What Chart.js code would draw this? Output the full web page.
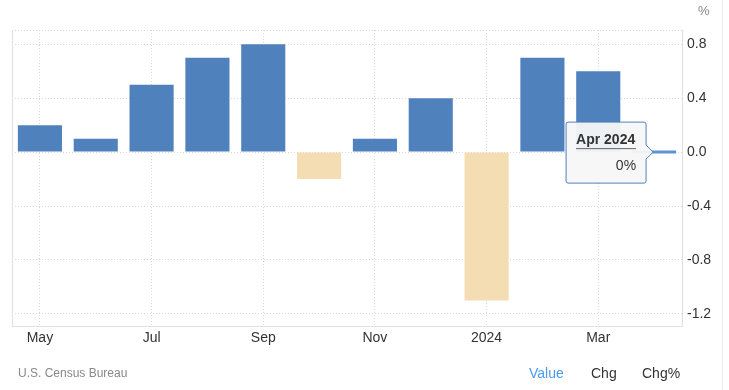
<!DOCTYPE html>
<html>
<head>
<meta charset="utf-8">
<script src="https://cdn.jsdelivr.net/npm/chart.js@4.4.1/dist/chart.umd.min.js"></script>
<style>
    html, body { margin: 0; padding: 0; background: #fff; }
    #wrap { position: relative; width: 729px; height: 390px; font-family: "Liberation Sans", Arial, sans-serif; }
    #edge { position: absolute; left: 722px; top: 0; width: 1px; height: 390px; background: #ececec; }
    .txt { position: absolute; white-space: nowrap; }
</style>
</head>
<body>
<div id="wrap">
    <canvas id="chart" width="729" height="390"></canvas>
    <div id="edge"></div>
    <div class="txt" style="left:698px; top:3px; font-size:13px; color:#888;">%</div>
    <div class="txt" style="left:18px; top:366px; font-size:12px; color:#888;">U.S. Census Bureau</div>
    <div class="txt" style="left:529px; top:365px; font-size:14px; color:#4a9af0;">Value</div>
    <div class="txt" style="left:591px; top:365px; font-size:14px; color:#333;">Chg</div>
    <div class="txt" style="left:642px; top:365px; font-size:14px; color:#333;">Chg%</div>
</div>
<script>
    // 데이터
    const months = ['May', 'Jun', 'Jul', 'Aug', 'Sep', 'Oct', 'Nov', 'Dec', 'Jan', 'Feb', 'Mar', 'Apr'];
    const monthLabels = ['May', '', 'Jul', '', 'Sep', '', 'Nov', '', '2024', '', 'Mar', ''];
    const changes = [0.2, 0.1, 0.5, 0.7, 0.8, -0.2, 0.1, 0.4, -1.1, 0.7, 0.6, 0];
    const yTicks = [-1.2, -0.8, -0.4, 0, 0.4, 0.8];

    // 색상
    const upColor = '#4f81bd';
    const downColor = '#f4ddb3';
    const gridColor = '#d8d8d8';
    const axisColor = '#e0e0e0';
    const font = { family: '"Liberation Sans", Arial, sans-serif', size: 14 };

    // 툴팁 (Apr 2024)
    const calloutPlugin = {
        id: 'callout',
        afterDraw(chart) {
            const el = chart.getDatasetMeta(0).data[11];
            const c = chart.ctx;
            const tipX = el.x - 1;
            const tipY = chart.scales.y.getPixelForValue(0);
            const w = 80, h = 61;
            const right = tipX - 7;
            const left = right - w;
            const top = tipY - 30;
            c.save();
            c.beginPath();
            c.moveTo(left + 2, top);
            c.lineTo(right - 2, top);
            c.quadraticCurveTo(right, top, right, top + 2);
            c.lineTo(right, tipY - 7);
            c.lineTo(tipX, tipY);
            c.lineTo(right, tipY + 7);
            c.lineTo(right, top + h - 2);
            c.quadraticCurveTo(right, top + h, right - 2, top + h);
            c.lineTo(left + 2, top + h);
            c.quadraticCurveTo(left, top + h, left, top + h - 2);
            c.lineTo(left, top + 2);
            c.quadraticCurveTo(left, top, left + 2, top);
            c.closePath();
            c.fillStyle = 'rgba(247,247,247,0.95)';
            c.fill();
            c.strokeStyle = upColor;
            c.lineWidth = 1;
            c.stroke();
            c.fillStyle = '#333';
            c.font = 'bold 14px "Liberation Sans", Arial, sans-serif';
            c.textAlign = 'left';
            c.fillText('Apr 2024', left + 10, top + 22);
            c.fillStyle = '#666';
            c.fillRect(left + 10, top + 26, 60, 1);
            c.fillStyle = '#333';
            c.font = '14px "Liberation Sans", Arial, sans-serif';
            c.textAlign = 'right';
            c.fillText('0%', left + 70, top + 48);
            c.restore();
        }
    };

    // 왼쪽 테두리
    const leftEdgePlugin = {
        id: 'leftEdge',
        beforeDatasetsDraw(chart) {
            const a = chart.chartArea;
            const c = chart.ctx;
            c.save();
            c.fillStyle = axisColor;
            c.fillRect(Math.round(a.left), Math.round(a.top), 1, a.bottom - a.top);
            c.restore();
        }
    };

    new Chart(document.getElementById('chart'), {
        type: 'bar',
        data: {
            labels: months,
            datasets: [{
                data: changes,
                backgroundColor: changes.map(v => v < 0 ? downColor : (v === 0 ? '#5b93d5' : upColor)),
                barPercentage: 0.79,
                categoryPercentage: 1,
                minBarLength: 3
            }]
        },
        options: {
            responsive: false,
            animation: false,
            layout: { padding: { left: 12, top: 30, right: 7, bottom: 34 } },
            plugins: { legend: { display: false }, tooltip: { enabled: false } },
            scales: {
                x: {
                    offset: true,
                    grid: {
                        offset: false,
                        drawTicks: false,
                        color: ctx => ctx.index % 2 === 0 ? gridColor : 'transparent'
                    },
                    border: { display: true, color: axisColor, dash: [1, 2] },
                    ticks: {
                        autoSkip: false,
                        maxRotation: 0,
                        padding: 4,
                        color: '#333',
                        font: font,
                        callback: (v, i) => monthLabels[i]
                    },
                    afterFit: s => { s.height = 30; }
                },
                y: {
                    position: 'right',
                    min: -1.29,
                    max: 0.906,
                    afterBuildTicks: s => { s.ticks = [-1.29].concat(yTicks).concat([0.906]).map(v => ({ value: v })); },
                    grid: {
                        drawTicks: false,
                        color: ctx => ctx.index === 0 ? 'transparent' : gridColor
                    },
                    border: { display: true, color: axisColor, dash: [1, 2] },
                    ticks: {
                        padding: 5,
                        color: '#333',
                        font: font,
                        callback: v => yTicks.includes(v) ? v.toFixed(1) : ''
                    },
                    afterFit: s => { s.width = 40; }
                }
            }
        },
        plugins: [leftEdgePlugin, calloutPlugin]
    });
</script>
</body>
</html>
